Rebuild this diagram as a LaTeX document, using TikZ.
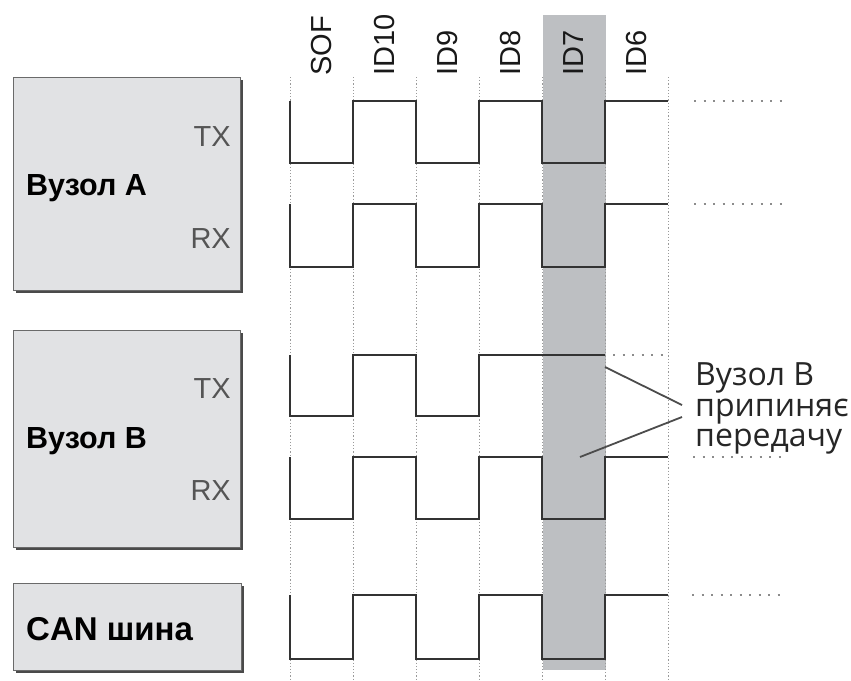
\documentclass[tikz,border=0pt]{standalone}
\usepackage{fontspec}
\setmainfont{Liberation Sans}
\newfontfamily\notefont{Open Sans}
\definecolor{boxfill}{HTML}{E1E2E4}
\definecolor{boxedge}{HTML}{6A6A6A}
\definecolor{shadowc}{HTML}{4A4A4A}
\definecolor{bandc}{HTML}{BDBFC2}
\definecolor{wavec}{HTML}{333333}
\definecolor{gridc}{HTML}{9A9A9A}
\definecolor{trailc}{HTML}{8C8C8C}
\definecolor{portc}{HTML}{555555}
\tikzset{
  nodebox/.style={draw=boxedge, line width=1pt, fill=boxfill},
  boxshadow/.style={fill=shadowc, draw=none},
  wave/.style={draw=wavec, line width=2.8pt, line join=miter},
  grid/.style={draw=gridc, line width=1pt, dash pattern=on 1.2pt off 2pt},
  trail/.style={draw=trailc, line width=2.2pt, dash pattern=on 2pt off 7.5pt},
  bitlabel/.style={rotate=90, anchor=west, inner sep=0pt, text=black!90, font=\fontsize{29}{29}\selectfont},
  portlabel/.style={anchor=base east, inner sep=0pt, text=portc, font=\fontsize{29}{29}\selectfont},
  boxlabel/.style={anchor=base west, inner sep=0pt, font=\bfseries\fontsize{30.5}{30.5}\selectfont},
  notelabel/.style={anchor=base west, inner sep=0pt, text=black!85, font=\notefont\fontsize{32}{32}\selectfont},
  leader/.style={draw=black!70, line width=1.8pt}
}
\begin{document}
\begin{tikzpicture}[x=1pt,y=-1pt]
\useasboundingbox (0,0) rectangle (851,680);
% highlighted ID7 column
\fill[bandc] (543,15) rectangle (606,670);
% vertical grid lines
\foreach \x in {290,353,416,479,542,605,668}
  \draw[grid] (\x,77) -- (\x,680);
% bit labels
\node[bitlabel] (sof)  at (321.5,76) {SOF};
\node[bitlabel] (id10) at (384.5,76) {ID10};
\node[bitlabel] (id9)  at (447.5,76) {ID9};
\node[bitlabel] (id8)  at (510.5,76) {ID8};
\node[bitlabel] (id7)  at (573.5,76) {ID7};
\node[bitlabel] (id6)  at (636.5,76) {ID6};
% boxes
\fill[boxshadow] (16,80) rectangle (243,293);
\draw[nodebox] (13,77) rectangle (240,290);
\fill[boxshadow] (16,333) rectangle (243,550);
\draw[nodebox] (13,330) rectangle (240,547);
\fill[boxshadow] (16,586) rectangle (244,673);
\draw[nodebox] (13,583) rectangle (241,670);
\node[boxlabel] (na) at (26,195) {Вузол А};
\node[boxlabel] (nb) at (26,448) {Вузол В};
\node[boxlabel, font=\bfseries\fontsize{33}{33}\selectfont] (can) at (26,640) {CAN шина};
\node[portlabel] (atx) at (231,146) {TX};
\node[portlabel] (arx) at (231,248) {RX};
\node[portlabel] (btx) at (231,398) {TX};
\node[portlabel] (brx) at (231,500) {RX};
% waveforms
\draw[wave] (290,101)--(290,163)--(353,163)--(353,101)--(416,101)--(416,163)--(479,163)--(479,101)--(542,101)--(542,163)--(605,163)--(605,101)--(668,101);
\draw[wave] (290,204)--(290,267)--(353,267)--(353,204)--(416,204)--(416,267)--(479,267)--(479,204)--(542,204)--(542,267)--(605,267)--(605,204)--(668,204);
\draw[wave] (290,355)--(290,416)--(353,416)--(353,355)--(416,355)--(416,416)--(479,416)--(479,355)--(605,355);
\draw[wave] (290,457)--(290,519)--(353,519)--(353,457)--(416,457)--(416,519)--(479,519)--(479,457)--(542,457)--(542,519)--(605,519)--(605,457)--(668,457);
\draw[wave] (290,595)--(290,659)--(353,659)--(353,595)--(416,595)--(416,659)--(479,659)--(479,595)--(542,595)--(542,659)--(605,659)--(605,595)--(668,595);
% trailing dots
\draw[trail] (694,101) -- (784,101);
\draw[trail] (694,204) -- (784,204);
\draw[trail] (613,355) -- (668,355);
\draw[trail] (693,457) -- (783,457);
\draw[trail] (692,595) -- (782,595);
% annotation
\node[notelabel] (note1) at (695,385) {Вузол В};
\node[notelabel] (note2) at (695,416) {припиняє};
\node[notelabel] (note3) at (695,446) {передачу};
\coordinate (tip1) at (682,405);
\coordinate (tip2) at (682,417);
\coordinate (src1) at (605,367);
\coordinate (src2) at (580,457);
\draw[leader] (src1) -- (tip1);
\draw[leader] (src2) -- (tip2);
\end{tikzpicture}
\end{document}
